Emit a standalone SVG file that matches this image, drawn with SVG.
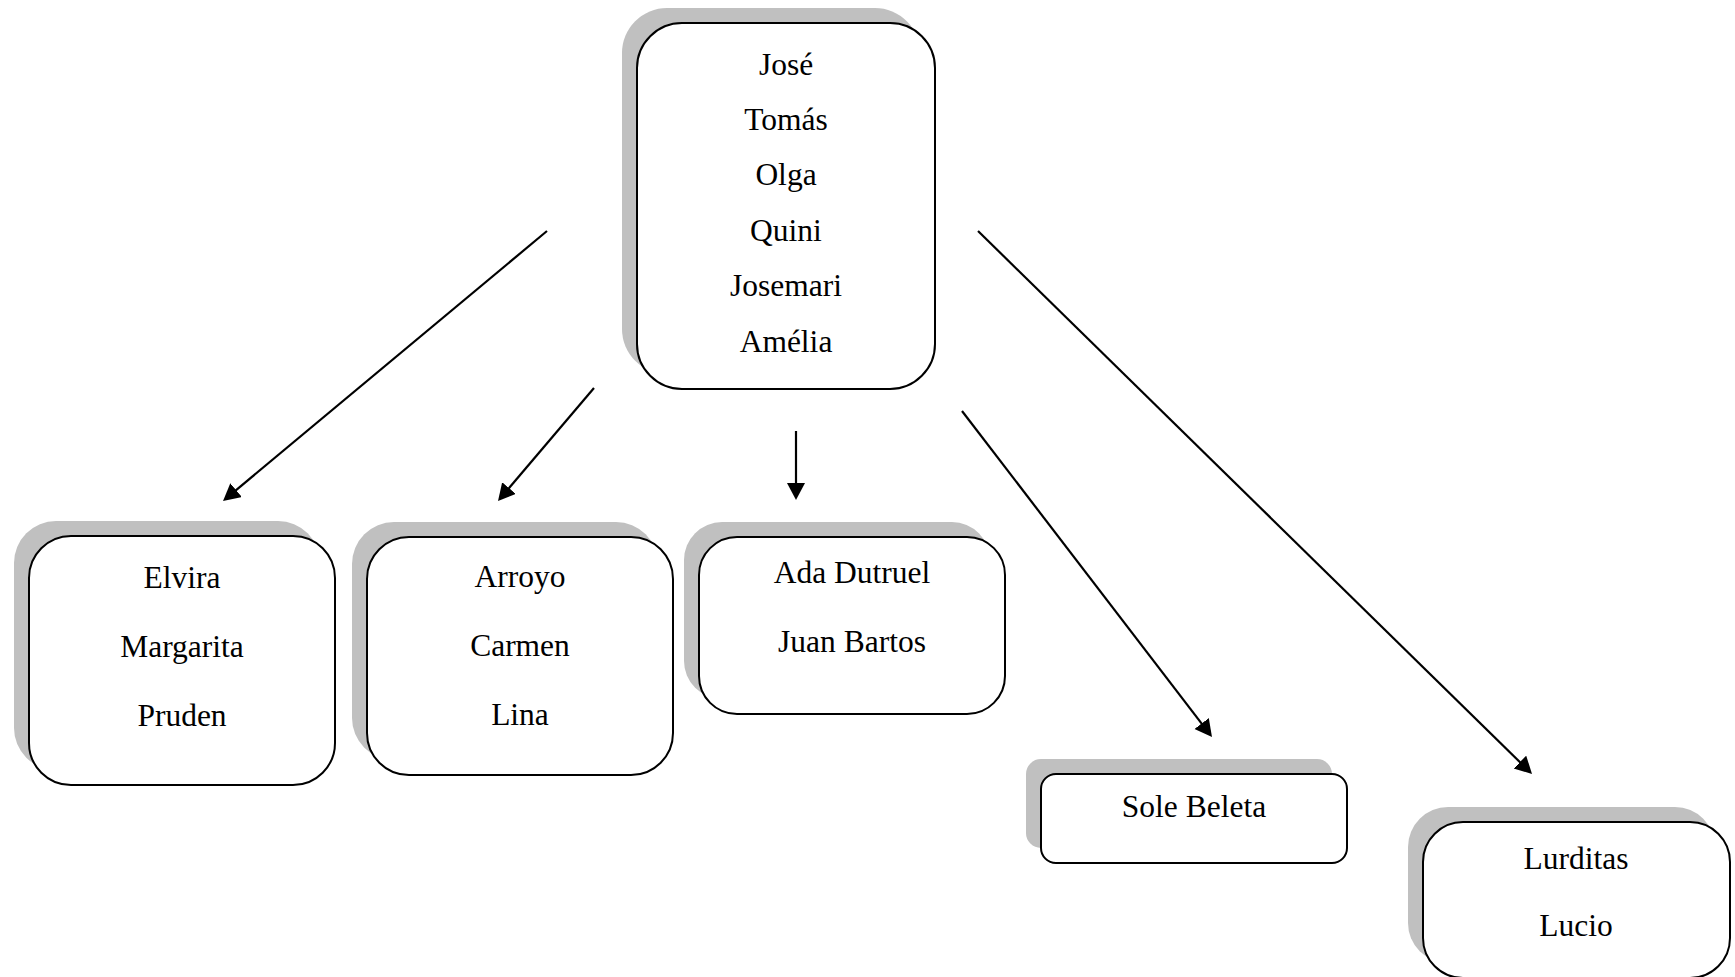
<svg xmlns="http://www.w3.org/2000/svg" width="1735" height="977" viewBox="0 0 1735 977">
<style>
.shadow{fill:#c0c0c0;stroke:none}
.box{fill:#fff;stroke:#000;stroke-width:2}
.t{font-family:"Liberation Serif","Times New Roman",serif;font-size:31.5px;fill:#000;text-anchor:middle}
.conn{stroke:#000;stroke-width:2.2;fill:none;marker-end:url(#arr)}
</style>
<defs>
<marker id="arr" markerUnits="userSpaceOnUse" markerWidth="20" markerHeight="20" refX="7" refY="9" orient="auto">
<path d="M0,0 L17,9 L0,18 z" fill="#000"/>
</marker>
</defs>
<rect width="1735" height="977" fill="#fff"/>
<g id="top">
<rect class="shadow" x="622" y="8" width="298" height="366" rx="45"/>
<rect class="box" x="637" y="23" width="298" height="366" rx="45"/>
<text class="t" x="786" y="75">José</text>
<text class="t" x="786" y="130">Tomás</text>
<text class="t" x="786" y="185">Olga</text>
<text class="t" x="786" y="241">Quini</text>
<text class="t" x="786" y="296">Josemari</text>
<text class="t" x="786" y="352">Amélia</text>
</g>
<g id="elvira">
<rect class="shadow" x="14" y="521" width="306" height="249" rx="42"/>
<rect class="box" x="29" y="536" width="306" height="249" rx="42"/>
<text class="t" x="182" y="588">Elvira</text>
<text class="t" x="182" y="657">Margarita</text>
<text class="t" x="182" y="726">Pruden</text>
</g>
<g id="arroyo">
<rect class="shadow" x="352" y="522" width="306" height="238" rx="42"/>
<rect class="box" x="367" y="537" width="306" height="238" rx="42"/>
<text class="t" x="520" y="587">Arroyo</text>
<text class="t" x="520" y="656">Carmen</text>
<text class="t" x="520" y="725">Lina</text>
</g>
<g id="ada">
<rect class="shadow" x="684" y="522" width="306" height="177" rx="38"/>
<rect class="box" x="699" y="537" width="306" height="177" rx="38"/>
<text class="t" x="852" y="583">Ada Dutruel</text>
<text class="t" x="852" y="652">Juan Bartos</text>
</g>
<g id="sole">
<rect class="shadow" x="1026" y="759" width="306" height="89" rx="15"/>
<rect class="box" x="1041" y="774" width="306" height="89" rx="15"/>
<text class="t" x="1194" y="817">Sole Beleta</text>
</g>
<g id="lurditas">
<rect class="shadow" x="1408" y="807" width="307" height="156" rx="40"/>
<rect class="box" x="1423" y="822" width="307" height="156" rx="40"/>
<text class="t" x="1576" y="869">Lurditas</text>
<text class="t" x="1576" y="936">Lucio</text>
</g>
<g id="connectors">
<line class="conn" x1="547" y1="231" x2="230.7" y2="494.6"/>
<line class="conn" x1="594" y1="388" x2="504.5" y2="493.4"/>
<line class="conn" x1="796" y1="431" x2="796" y2="490"/>
<line class="conn" x1="962" y1="411" x2="1205.9" y2="729.1"/>
<line class="conn" x1="978" y1="231" x2="1524.9" y2="767"/>
</g>
</svg>
